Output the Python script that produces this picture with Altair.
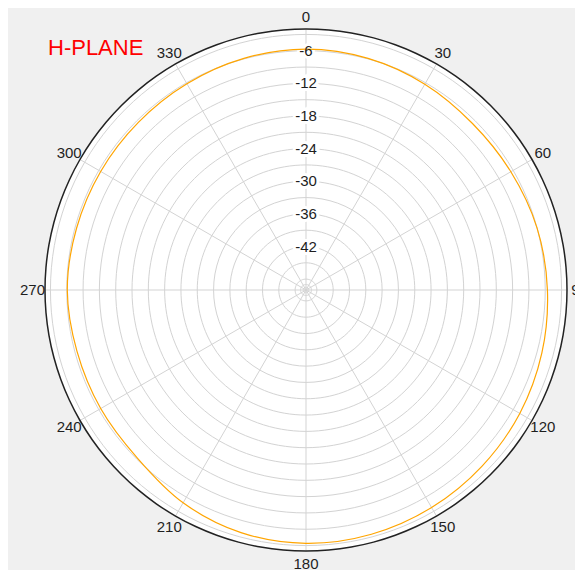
import pandas as pd
import altair as alt

# ---- data ----
angle_deg = [0, 15, 30, 45, 60, 75, 90, 105, 120, 135, 150, 165,
             180, 195, 210, 225, 240, 255, 270, 285, 300, 315, 330, 345]
gain_db = [-5.7, -5.9, -6.3, -6.7, -6.5, -6.0, -5.6, -5.1, -4.6, -4.2, -3.8, -3.5,
           -3.4, -3.8, -4.8, -6.2, -6.4, -6.4, -6.1, -6.3, -6.4, -6.4, -6.2, -5.9]
ring_db = [-49.5, -49, -48, -45, -42, -39, -36, -33, -30, -27, -24, -21,
           -18, -15, -12, -9, -6, -3]
ring_label_db = [-6, -12, -18, -24, -30, -36, -42]
spoke_deg = [0, 30, 60, 90, 120, 150, 180, 210, 240, 270, 300, 330]
spoke_label = ["0", "30", "60", "90", "120", "150", "180", "210", "240", "270", "300", "330"]
outer_db = [-2]
title_text = "H-PLANE"

DB_MIN, DB_MAX = -50, -2
SPAN = DB_MAX - DB_MIN          # 48
HALF = 261                      # plot radius in px
LABEL_R = SPAN + 12.5 * SPAN / HALF
circle_step = list(range(0, 360, 5))   # angular sampling used to draw the grid circles

FONT = "Liberation Sans"
TXT = "#1e1e1e"
GRID = "#d3d3d3"

xs = alt.Scale(domain=[-SPAN, SPAN], nice=False, zero=False)
ys = alt.Scale(domain=[-SPAN, SPAN], nice=False, zero=False)
X = lambda f: alt.X(f, scale=xs, axis=None)
Y = lambda f: alt.Y(f, scale=ys, axis=None)

df_pat = pd.DataFrame({"angle": angle_deg, "db": gain_db})
df_rings = pd.DataFrame([(d, t) for d in ring_db for t in circle_step], columns=["db", "t"])
df_outer = pd.DataFrame([(d, t) for d in outer_db for t in circle_step], columns=["db", "t"])
df_center = pd.DataFrame({"db": [DB_MIN]})
df_spokes = pd.DataFrame({"angle": spoke_deg, "label": spoke_label})
df_rlab = pd.DataFrame({"db": ring_label_db, "txt": [str(v) for v in ring_label_db]})
df_title = pd.DataFrame({"txt": [title_text]})

polar_x = f"(datum.db - ({DB_MIN}))*sin(datum.t*PI/180)"
polar_y = f"(datum.db - ({DB_MIN}))*cos(datum.t*PI/180)"

disk = alt.Chart(df_center).transform_calculate(px="0", py="0").mark_point(
    shape="circle", filled=True, color="white", opacity=1, size=(2 * HALF) ** 2
).encode(x=X("px:Q"), y=Y("py:Q"))

rings = alt.Chart(df_rings).transform_calculate(px=polar_x, py=polar_y).mark_line(
    color=GRID, strokeWidth=1, interpolate="cardinal-closed"
).encode(x=X("px:Q"), y=Y("py:Q"), detail="db:N", order=alt.Order("t:Q"))

spokes = alt.Chart(df_spokes).transform_calculate(
    x0="0", y0="0",
    x1=f"{SPAN}*sin(datum.angle*PI/180)",
    y1=f"{SPAN}*cos(datum.angle*PI/180)",
).mark_rule(color=GRID, strokeWidth=1).encode(
    x=X("x0:Q"), y=Y("y0:Q"), x2="x1:Q", y2="y1:Q",
)

halo = alt.Chart(df_rlab).transform_calculate(
    px="0", py=f"datum.db - ({DB_MIN})"
).mark_text(fontSize=15, font=FONT, stroke="white", strokeWidth=6, fill="white",
            baseline="middle").encode(x=X("px:Q"), y=Y("py:Q"), text="txt:N")

pattern = alt.Chart(df_pat).transform_calculate(
    px=f"(datum.db - ({DB_MIN}))*sin(datum.angle*PI/180)",
    py=f"(datum.db - ({DB_MIN}))*cos(datum.angle*PI/180)",
).mark_line(color="#ffa500", strokeWidth=1.2, interpolate="cardinal-closed").encode(
    x=X("px:Q"), y=Y("py:Q"), order=alt.Order("angle:Q"),
)

outer = alt.Chart(df_outer).transform_calculate(px=polar_x, py=polar_y).mark_line(
    color="#222222", strokeWidth=1.5, interpolate="cardinal-closed"
).encode(x=X("px:Q"), y=Y("py:Q"), order=alt.Order("t:Q"))

ring_text = alt.Chart(df_rlab).transform_calculate(
    px="0", py=f"datum.db - ({DB_MIN})"
).mark_text(fontSize=15, font=FONT, color=TXT, baseline="middle").encode(
    x=X("px:Q"), y=Y("py:Q"), text="txt:N",
)

angle_text = alt.Chart(df_spokes).transform_calculate(
    px=f"{LABEL_R}*sin(datum.angle*PI/180)",
    py=f"{LABEL_R}*cos(datum.angle*PI/180)",
).mark_text(fontSize=15, font=FONT, color=TXT, baseline="middle", align="center").encode(
    x=X("px:Q"), y=Y("py:Q"), text="label:N",
)

title = alt.Chart(df_title).mark_text(
    fontSize=22, font=FONT, color="red", align="left", baseline="alphabetic"
).encode(x=alt.value(3), y=alt.value(26), text="txt:N")

chart = alt.layer(
    disk, rings, spokes, halo, pattern, outer, ring_text, angle_text, title
).properties(
    width=2 * HALF,
    height=2 * HALF,
    autosize="none",
    padding={"left": 37, "top": 21, "right": 8, "bottom": 19},
    background="#f0f0f0",
).configure_view(strokeWidth=0)

chart.save("out.html", embed_options={"renderer": "svg", "actions": False})
